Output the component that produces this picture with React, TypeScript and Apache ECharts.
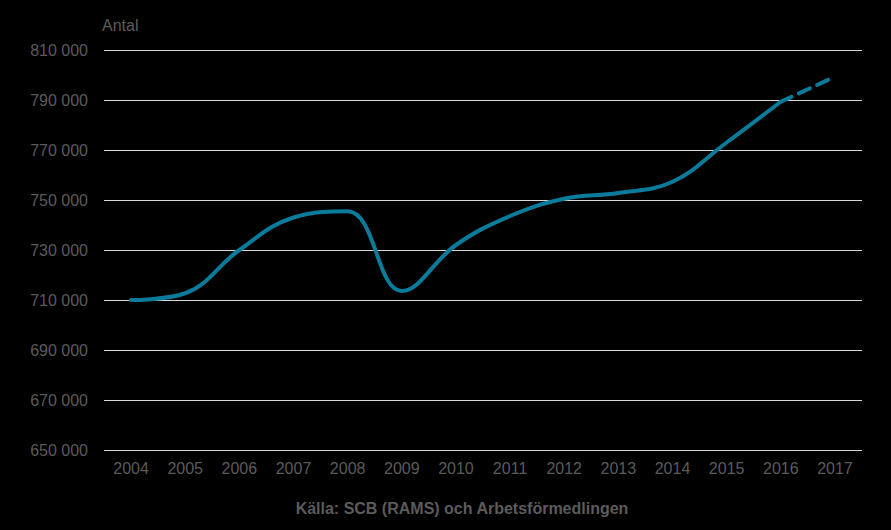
import React, { useEffect, useRef } from "react";
import * as echarts from "echarts";

const years = ["2004", "2005", "2006", "2007", "2008", "2009", "2010", "2011", "2012", "2013", "2014", "2015", "2016", "2017"];
const actual = [710000, 712700, 730000, 743000, 745500, 713600, 732000, 743600, 750500, 752800, 757300, 773000, 789300, null];
const forecast = [null, null, null, null, null, null, null, null, null, null, null, null, 789300, 799300];
const yTicks = { min: 650000, max: 810000, interval: 20000 };
const unitLabel = "Antal";
const sourceText = "Källa: SCB (RAMS) och Arbetsförmedlingen";

const lineColor = "#0b7b9c";
const textColor = "#5b5b5b";

const fmt = (v: number) => {
  const s = String(Math.round(v));
  return s.replace(/\B(?=(\d{3})+(?!\d))/g, " ");
};

export default function App() {
  const ref = useRef<HTMLDivElement>(null);
  useEffect(() => {
    document.body.style.margin = "0";
    document.body.style.background = "#000";
    const chart = echarts.init(ref.current!, null, { renderer: "svg" });
    chart.setOption({
      animation: false,
      backgroundColor: "#000000",
      textStyle: { fontFamily: "Liberation Sans, Arial, sans-serif" },
      grid: { left: 104, right: 29, top: 50, bottom: 80, containLabel: false },
      xAxis: {
        type: "category",
        data: years,
        boundaryGap: true,
        axisLine: { show: false },
        axisTick: { show: false },
        axisLabel: { color: textColor, fontSize: 16, margin: 10 },
      },
      yAxis: {
        type: "value",
        min: yTicks.min,
        max: yTicks.max,
        interval: yTicks.interval,
        axisLine: { show: false },
        axisTick: { show: false },
        axisLabel: { color: textColor, fontSize: 16, margin: 16, formatter: fmt },
        splitLine: { lineStyle: { color: "#d9d9d9", width: 1 } },
      },
      graphic: [
        {
          type: "text",
          left: 102,
          top: 17,
          style: { text: unitLabel, fill: textColor, fontSize: 16, fontFamily: "Liberation Sans, Arial, sans-serif" },
        },
        {
          type: "text",
          x: 462,
          y: 508,
          style: {
            text: sourceText,
            fill: textColor,
            fontSize: 16,
            fontWeight: "bold",
            align: "center",
            verticalAlign: "middle",
            fontFamily: "Liberation Sans, Arial, sans-serif",
          },
        },
      ],
      series: [
        {
          type: "line",
          data: actual,
          smooth: 0.4,
          symbol: "none",
          lineStyle: { color: lineColor, width: 4, cap: "round" },
          z: 3,
        },
        {
          type: "line",
          data: forecast,
          smooth: 0.4,
          symbol: "none",
          lineStyle: { color: lineColor, width: 4, type: [12, 8], cap: "round" },
          z: 3,
        },
      ],
    });
    return () => chart.dispose();
  }, []);
  return <div ref={ref} style={{ width: 891, height: 530 }} />;
}
